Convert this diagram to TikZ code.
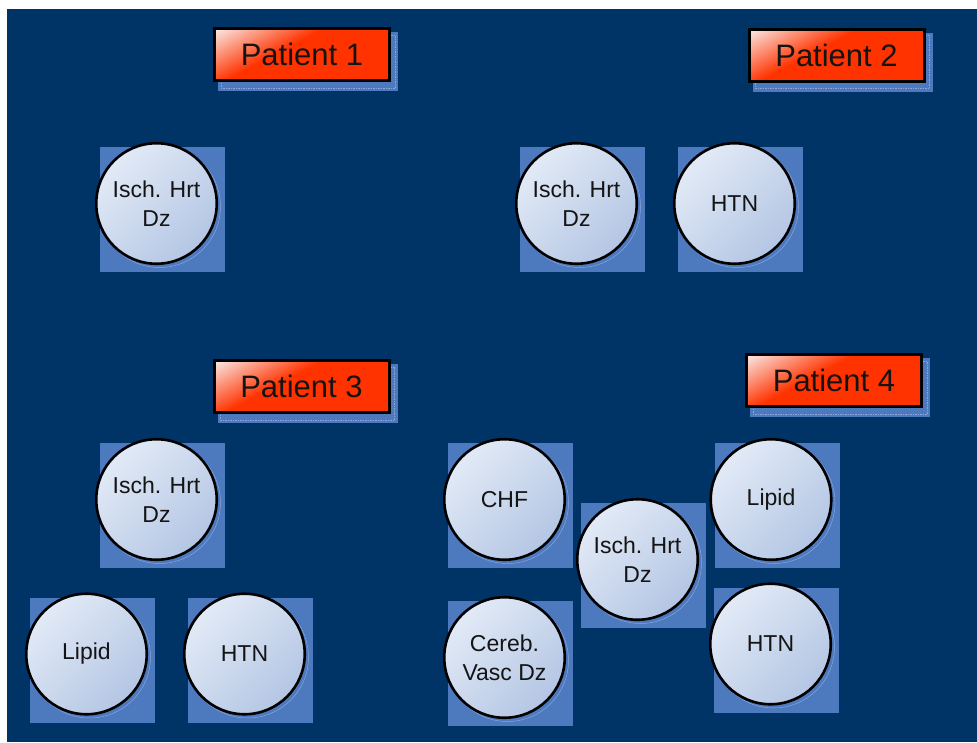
\documentclass[tikz,border=0pt]{standalone}
\usepackage{fontspec}
\setmainfont{Liberation Sans}

\definecolor{bgcol}{RGB}{0,51,102}
\definecolor{tilecol}{RGB}{77,121,191}
\definecolor{ringcol}{RGB}{140,165,214}
\definecolor{dzlight}{RGB}{226,234,246}
\definecolor{dzdark}{RGB}{180,198,228}
\definecolor{redlight}{RGB}{250,230,226}
\definecolor{redmain}{RGB}{255,51,0}
\definecolor{textcol}{RGB}{20,20,20}

% light corner fading into the red of the patient tabs
\pgfdeclarehorizontalshading{redglow}{100bp}{color(0bp)=(redlight); color(17bp)=(redlight); color(43bp)=(redmain); color(100bp)=(redmain)}

% condition: blue tile, faint ring and shaded disc
\newcommand\dzitem[4]{%
  \node[sqbox] (#1-sq) at ({#2+6},{#3+6}) {};
  \draw[ring] ({#2+3},{#3+3}) circle (61pt);
  \node[dz] (#1) at (#2,#3) {#4};
}
% patient tab with its offset backing plate
\newcommand\patient[4]{%
  \fill[tilecol] ({#2-84},{#3-22.5}) rectangle ({#2+96},{#3+36.5});
  \draw[ringcol, line width=0.5pt, dash pattern=on 1.5pt off 1pt] ({#2-81},{#3-19.5}) rectangle ({#2+93},{#3+33.5});
  \node[ptbox] (#1) at (#2,#3) {#4};
}

\begin{document}
\begin{tikzpicture}[x=1pt,y=-1pt,
  sqbox/.style={rectangle, fill=tilecol, minimum size=125pt, inner sep=0pt},
  ring/.style={draw=ringcol, line width=0.5pt},
  dz/.style={circle, draw=black, line width=2.6pt, minimum size=120.5pt, inner sep=0pt,
    top color=dzlight, bottom color=dzdark, shading angle=45, align=center,
    font=\fontsize{23}{29}\selectfont, text=textcol},
  ptbox/.style={rectangle, draw=black, line width=3pt, minimum width=175pt, minimum height=52pt,
    inner sep=0pt, shade, shading=redglow, shading angle=-62,
    font=\fontsize{31}{36}\selectfont, text=textcol},
]
\fill[white] (0,0) rectangle (977,742);
\useasboundingbox (0,0) rectangle (977,742);
\fill[bgcol] (7,9) rectangle (977,742);

% Patient 1
\patient{pt1}{302}{54.5}{Patient 1}
\dzitem{isch1}{156.5}{203.5}{Isch. Hrt\\Dz}

% Patient 2
\patient{pt2}{836.5}{55}{Patient 2}
\dzitem{isch2}{576.5}{203.5}{Isch. Hrt\\Dz}
\dzitem{htn2}{734.5}{203.5}{HTN}

% Patient 3
\patient{pt3}{301.5}{386.5}{Patient 3}
\dzitem{isch3}{156.5}{499.5}{Isch. Hrt\\Dz}
\dzitem{lipid3}{86.5}{654}{Lipid}
\dzitem{htn3}{244.5}{654}{HTN}

% Patient 4
\patient{pt4}{834}{380.5}{Patient 4}
\dzitem{chf4}{504.5}{499.5}{CHF}
\dzitem{cereb4}{504.5}{657.5}{Cereb.\\Vasc Dz}
\dzitem{isch4}{637.5}{559.5}{Isch. Hrt\\Dz}
\dzitem{lipid4}{771}{499.5}{Lipid}
\dzitem{htn4}{770.5}{644}{HTN}
\end{tikzpicture}
\end{document}
